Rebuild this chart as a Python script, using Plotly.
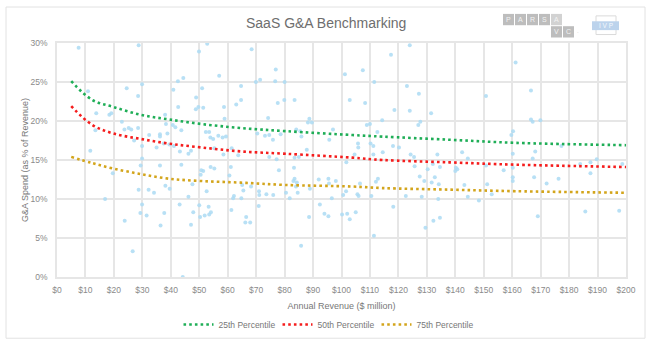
import plotly.graph_objects as go

# ---------------- data ----------------
curve_x = [5, 12.4, 19.8, 29.4, 39.4, 51, 64.6, 80.4, 103.8, 114.4, 137.8, 161.2, 200]
p25 = [25.1, 22.7, 21.8, 20.8, 20.2, 19.6, 19.1, 18.7, 18.2, 18.0, 17.6, 17.2, 16.9]
p50 = [21.9, 19.5, 18.4, 17.7, 17.1, 16.6, 16.1, 15.8, 15.3, 15.0, 14.7, 14.4, 14.1]
p75 = [15.4, 14.6, 13.9, 13.2, 12.6, 12.3, 12.1, 11.8, 11.6, 11.4, 11.2, 11.0, 10.8]

pts_rev = [
    7.6, 28.7, 24.5, 29.9, 28.5, 10.9, 13.8, 18.4, 19.1, 22.8, 13.5, 23.7, 25.2, 26.1, 28.5, 27.1,
    29.9, 11.7, 29.9, 29.4, 19.6, 28.7, 32.2, 34.1, 16.9, 29.9, 29.3, 31.5, 23.8, 26.6, 36.2, 38.1,
    39.6, 37.7, 36.4, 32.4, 36.2, 36.2, 37.5, 35.0, 38.3, 38.0, 38.8, 39.5,
    52.8, 49.9, 68.4, 44.4, 42.5, 57.0, 76.9, 76.7, 69.9, 71.4, 40.9, 51.0, 64.7, 48.9, 64.7, 63.0,
    77.6, 79.9, 42.6, 48.8, 49.7, 51.4, 58.7, 58.9, 74.2, 40.7, 41.6, 43.7, 52.3, 53.5, 53.9, 56.7,
    58.2, 59.4, 54.9, 70.4, 73.1, 74.6, 75.9, 78.6, 41.1, 43.2, 46.2, 47.1, 55.3, 58.5, 61.4, 63.7,
    74.6, 77.2, 43.7, 50.7, 51.4, 50.5, 54.0, 55.3, 61.1, 60.6, 78.0, 47.6, 52.6, 65.1, 65.5, 68.2,
    71.0, 71.1, 73.6, 76.0, 62.2, 61.9, 64.8, 43.1, 46.2, 50.0, 53.3, 61.3, 70.9, 47.9, 50.3, 51.9,
    53.5, 54.1, 66.5, 66.2, 67.9, 47.1, 44.2,
    117.4, 107.5, 101.2, 80.0, 83.5, 102.9, 108.3, 111.5, 118.6, 88.7, 88.2, 89.6, 114.3, 108.9, 110.0,
    84.1, 85.5, 85.9, 97.0, 95.7, 112.6, 105.8, 105.9, 110.2, 111.2, 118.1, 114.5, 120.2, 87.8, 83.5,
    85.0, 104.6, 111.2, 101.7, 83.3, 83.5, 83.1, 84.3, 84.0, 84.6, 80.5, 81.8, 92.0, 88.9, 95.4, 95.6,
    98.0, 96.6, 100.6, 101.6, 105.6, 106.0, 106.5, 110.5, 112.1, 112.8, 92.4, 94.0, 95.4, 88.6, 100.2,
    102.0, 102.9, 105.0, 118.2, 111.4, 85.8,
    124.0, 123.0, 127.2, 150.8, 124.0, 131.5, 127.7, 127.0, 124.3, 125.5, 125.7, 133.7, 132.1, 130.3,
    134.6, 142.4, 144.4, 140.2, 140.7, 140.0, 150.8, 157.0, 160.2, 160.2, 160.2, 160.2, 159.7, 160.3,
    127.5, 129.1, 132.8, 131.7, 134.2, 143.2, 151.2, 122.6, 128.2, 134.0, 144.4, 148.3, 152.8, 132.3,
    134.6, 129.5,
    161.2, 166.6, 166.6, 167.2, 169.9, 177.3, 168.1, 167.2, 183.9, 187.5, 189.7, 187.5, 198.7, 167.7,
    172.1, 176.3, 169.0, 185.7, 197.6,
]
pts_pct = [
    29.4, 29.7, 24.2, 24.7, 23.2, 23.8, 21.0, 20.8, 21.0, 19.9, 18.8, 18.9, 19.1, 18.9, 19.1, 17.5,
    16.8, 16.2, 15.2, 14.3, 13.3, 11.2, 11.2, 10.8, 10.0, 9.3, 8.2, 7.9, 7.2, 3.3, 14.3, 11.7,
    11.3, 8.2, 6.6, 18.2, 18.3, 18.0, 17.1, 16.6, 19.6, 20.8, 18.4, 17.0,
    29.9, 28.9, 29.2, 25.5, 25.1, 25.8, 26.6, 25.1, 25.0, 25.3, 24.0, 24.2, 24.5, 23.0, 22.7, 22.1,
    22.3, 22.7, 21.8, 21.5, 21.8, 21.7, 21.8, 20.3, 20.4, 19.5, 19.2, 18.8, 18.6, 18.6, 17.9, 18.1,
    17.9, 18.0, 17.7, 18.4, 18.1, 18.2, 17.6, 18.3, 16.8, 16.1, 15.8, 16.2, 16.5, 15.7, 16.5, 15.6,
    15.4, 15.1, 14.4, 13.7, 13.6, 13.1, 14.1, 13.9, 14.1, 13.0, 13.7, 11.9, 11.0, 11.8, 11.1, 11.6,
    11.0, 10.5, 10.6, 10.5, 10.4, 10.1, 10.1, 9.3, 10.3, 9.2, 9.0, 8.6, 9.1, 8.3, 7.7, 7.9,
    8.0, 8.3, 7.7, 7.0, 7.0, 6.7, 0.0,
    28.5, 26.5, 26.0, 25.0, 22.7, 22.7, 22.3, 25.0, 21.4, 20.3, 19.8, 19.8, 20.1, 19.5, 19.6,
    18.9, 18.7, 18.0, 18.9, 17.6, 18.6, 17.1, 16.6, 17.1, 16.8, 16.8, 16.0, 16.6, 16.3, 15.3,
    15.4, 15.7, 15.7, 14.7, 14.0, 12.6, 12.3, 12.1, 11.6, 10.8, 10.8, 10.1, 12.5, 11.3, 12.6, 12.0,
    12.3, 10.1, 10.5, 11.0, 10.6, 10.4, 12.0, 10.4, 12.2, 12.6, 9.3, 8.1, 7.8, 7.7, 8.0,
    8.1, 7.4, 8.3, 9.0, 5.3, 4.0,
    29.7, 24.5, 23.5, 23.2, 21.3, 21.0, 19.9, 19.5, 15.7, 15.4, 14.2, 15.7, 14.5, 13.8,
    14.1, 16.0, 15.2, 14.0, 13.8, 13.6, 14.3, 13.7, 15.8, 14.0, 12.8, 12.3, 18.2, 18.7,
    12.9, 12.3, 12.8, 12.1, 11.9, 11.8, 11.9, 10.4, 10.3, 10.0, 10.3, 9.8, 10.6, 7.2,
    7.6, 6.3,
    27.5, 23.9, 20.2, 19.9, 20.1, 16.8, 16.1, 15.2, 14.5, 14.7, 15.1, 13.3, 14.5, 12.8,
    12.0, 12.6, 7.8, 8.4, 8.5,
]

x_ticks = list(range(0, 201, 10))
x_labels = ["$" + str(v) for v in x_ticks]
y_ticks = list(range(0, 31, 5))
y_labels = [str(v) + "%" for v in y_ticks]

series_names = ["25th Percentile", "50th Percentile", "75th Percentile"]
series_vals = [p25, p50, p75]
series_colors = ["#1fae57", "#f51d1d", "#d3a51c"]

# ---------------- figure ----------------
FONT = "Liberation Sans, Arial, sans-serif"
W, H = 653, 351
ML, MR, MT, MB = 57, 27, 42.6, 70.3
PW, PH = W - ML - MR, H - MT - MB


def px(x):
    return (x - ML) / PW


def py(y):
    return (H - MB - y) / PH


fig = go.Figure()
fig.add_trace(go.Scatter(
    x=pts_rev, y=pts_pct, mode="markers", showlegend=False, hoverinfo="skip",
    marker=dict(size=4, color="#acdaf3", opacity=0.85, line=dict(width=0)),
))
for name, vals, col in zip(series_names, series_vals, series_colors):
    fig.add_trace(go.Scatter(
        x=curve_x, y=vals, mode="lines", name=name,
        line=dict(color=col, width=2.6, dash="2.6px,3.1px", shape="spline", smoothing=1.0),
    ))

grid = "#e6e6e6"
fig.update_xaxes(
    range=[0, 200], tickvals=x_ticks, ticktext=x_labels, showgrid=True, gridcolor=grid,
    gridwidth=1.5, showline=True, linecolor=grid, linewidth=1.5, mirror=True, zeroline=False,
    tickfont=dict(family=FONT, size=8.5, color="#8a8a8a"), ticklabelstandoff=4,
    title=dict(text="Annual Revenue ($ million)", font=dict(family=FONT, size=9, color="#777777"),
               standoff=9),
)
fig.update_yaxes(
    range=[0, 30], tickvals=y_ticks, ticktext=y_labels, showgrid=True, gridcolor=grid,
    gridwidth=1.5, showline=True, linecolor=grid, linewidth=1.5, mirror=True, zeroline=False,
    tickfont=dict(family=FONT, size=8.5, color="#8a8a8a"), ticklabelstandoff=6,
)

shapes = [
    dict(type="rect", xref="paper", yref="paper", x0=px(6), x1=px(645), y0=py(343), y1=py(6),
         line=dict(color="#e2e2e2", width=1), fillcolor="rgba(0,0,0,0)", layer="below"),
]
annotations = [
    dict(text="SaaS G&A Benchmarking", xref="paper", yref="paper", x=px(326), y=py(22.5),
         xanchor="center", yanchor="middle",
         showarrow=False, font=dict(family=FONT, size=14, color="#6e6e6e")),
    dict(text="G&A Spend (as % of Revenue)", xref="paper", yref="paper", x=px(25), y=0.5,
         xanchor="center", yanchor="middle", textangle=-90,
         showarrow=False, font=dict(family=FONT, size=9, color="#777777")),
]
# PARSA VC logo
letters = [("P", 503, 13), ("A", 515, 13), ("R", 527, 13), ("S", 539, 13), ("A", 551, 13),
           ("V", 551, 25.5), ("C", 563, 25.5)]
for i, (ch, lx, ly) in enumerate(letters):
    shapes.append(dict(type="rect", xref="paper", yref="paper", x0=px(lx), x1=px(lx + 11),
                       y0=py(ly + 11.5), y1=py(ly), line=dict(width=0), layer="below",
                       fillcolor="#d2d2d2" if i == 4 else "#bdbdbd"))
    annotations.append(dict(text=ch, xref="paper", yref="paper", x=px(lx + 5.5), y=py(ly + 5.8),
                            xanchor="center", yanchor="middle",
                            showarrow=False, font=dict(family=FONT, size=7, color="#f2f2f2")))
annotations.append(dict(text=".", xref="paper", yref="paper", x=px(578), y=py(30),
                        xanchor="center", yanchor="middle", showarrow=False,
                        font=dict(family=FONT, size=6, color="#c8c8c8")))
# IVP logo
shapes.append(dict(type="rect", xref="paper", yref="paper", x0=px(596), x1=px(616), y0=py(34),
                   y1=py(15), line=dict(color="#dadada", width=1), fillcolor="white", layer="below"))
shapes.append(dict(type="rect", xref="paper", yref="paper", x0=px(592), x1=px(619), y0=py(29.5),
                   y1=py(20.5), line=dict(width=0), fillcolor="#bcd3ec", layer="below"))
annotations.append(dict(text="I V P", xref="paper", yref="paper", x=px(605.5), y=py(25),
                        xanchor="center", yanchor="middle",
                        showarrow=False, font=dict(family=FONT, size=6.5, color="#f4f8fc")))

fig.update_layout(
    width=W, height=H, margin=dict(l=ML, r=MR, t=MT, b=MB),
    paper_bgcolor="white", plot_bgcolor="white",
    shapes=shapes, annotations=annotations,
    legend=dict(orientation="h", x=px(327), xanchor="center", y=py(329), yanchor="middle",
                font=dict(family=FONT, size=8.5, color="#777777"), itemwidth=30,
                entrywidth=54, entrywidthmode="pixels",
                bgcolor="rgba(0,0,0,0)"),
)

fig.write_html("out.html")
